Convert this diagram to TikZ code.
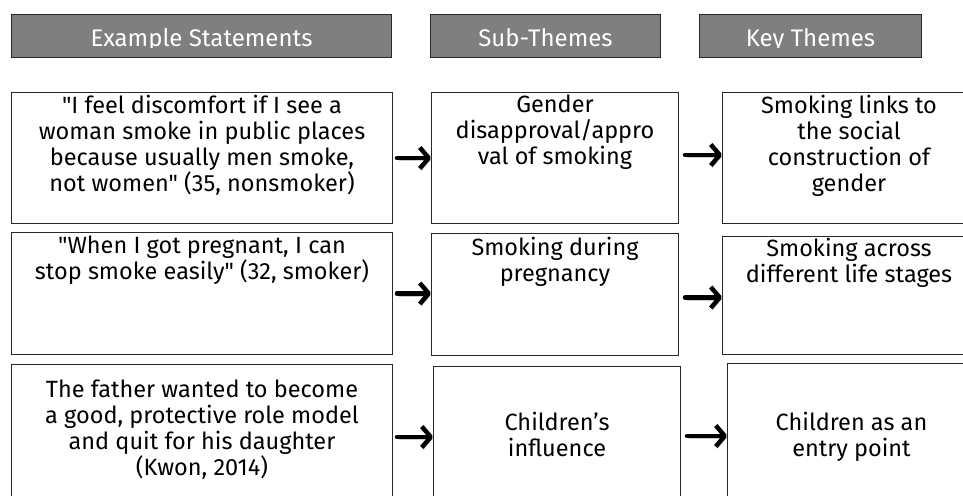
\documentclass[tikz,border=0pt]{standalone}
\usepackage{fontspec}
\setmainfont{Fira Sans}[Ligatures=TeXOff]
\usetikzlibrary{arrows.meta,positioning,calc}
\definecolor{slate}{RGB}{127,127,127}
\definecolor{edge}{RGB}{40,40,40}

\begin{document}
\begin{tikzpicture}[x=1pt,y=1pt,
    headbox/.style={draw=edge,fill=slate,line width=1pt,anchor=north west,inner sep=0pt},
    cellbox/.style={draw=edge,line width=1pt,anchor=north west,inner sep=0pt},
    cell/.style={align=center,anchor=north,inner sep=0pt,font=\fontsize{23.5}{26}\selectfont},
    head/.style={text=white,anchor=base,inner sep=0pt,font=\fontsize{24}{26}\selectfont},
    flow/.style={line width=4.5pt,line cap=round,
      -{Straight Barb[length=9pt,width=21pt,line join=round]},
      preaction={draw=black!20,transform canvas={shift={(1.5pt,-2.5pt)}}}}]
  \useasboundingbox (0,0) rectangle (963,495);

  % column headers
  \node[headbox,minimum width=380,minimum height=43] (hst) at (11,481) {};
  \node[headbox,minimum width=230,minimum height=43] (hsub) at (430,481) {};
  \node[headbox,minimum width=222,minimum height=43] (hkey) at (699,481) {};
  \begin{scope}
    \clip (0,447) rectangle (963,495);
    \node[head] (thst) at (hst.center |- 0,448) {Example Statements};
    \node[head] (thsub) at (hsub.center |- 0,448) {Sub-Themes};
    \node[head] (thkey) at (hkey.center |- 0,448) {Key Themes};
  \end{scope}

  % row 1
  \node[cellbox,minimum width=381,minimum height=131] (s1) at (11,403) {};
  \node[cellbox,minimum width=247,minimum height=131] (m1) at (431,403) {};
  \node[cellbox,minimum width=253,minimum height=131] (k1) at (722,403) {};
  \node[cell] (ts1) at ([yshift=-3pt]s1.north) {"I feel discomfort if I see a\\woman smoke in public places\\because usually men smoke,\\not women" (35, nonsmoker)};
  \node[cell] (tm1) at ([yshift=-3pt]m1.north) {Gender\\disapproval/appro\\val of smoking};
  \node[cell] (tk1) at ([yshift=-3pt]k1.north) {Smoking links to\\the social\\construction of\\gender};

  % row 2
  \node[cellbox,minimum width=381,minimum height=122] (s2) at (11,263) {};
  \node[cellbox,minimum width=247,minimum height=122] (m2) at (431,262) {};
  \node[cellbox,minimum width=253,minimum height=118] (k2) at (722,259) {};
  \node[cell] (ts2) at ([yshift=-4pt]s2.north) {"When I got pregnant, I can\\stop smoke easily" (32, smoker)};
  \node[cell] (tm2) at ([yshift=-4pt]m2.north) {Smoking during\\pregnancy};
  \node[cell] (tk2) at ([yshift=-2pt]k2.north) {Smoking across\\different life stages};

  % row 3
  \node[cellbox,minimum width=381,minimum height=145] (s3) at (11,131) {};
  \node[cellbox,minimum width=247,minimum height=145] (m3) at (433,129) {};
  \node[cellbox,minimum width=248,minimum height=145] (k3) at (727,132) {};
  \node[cell] (ts3) at ([yshift=-16pt]s3.north) {The father wanted to become\\a good, protective role model\\and quit for his daughter\\(Kwon, 2014)};
  \node[cell] (tm3) at ([yshift=-46pt]m3.north) {Children’s\\influence};
  \node[cell] (tk3) at ([yshift=-49pt]k3.north) {Children as an\\entry point};

  % arrows
  \draw[flow] ([xshift=4pt]s1.east) -- (s1.east -| m1.west);
  \draw[flow] ([xshift=6pt,yshift=3pt]m1.east) -- ([yshift=3pt]m1.east -| k1.west);
  \draw[flow] ([xshift=4pt]s2.east) -- (s2.east -| m2.west);
  \draw[flow] ([xshift=6pt,yshift=-3pt]m2.east) -- ([yshift=-3pt]m2.east -| k2.west);
  \draw[flow] ([xshift=4pt]s3.east) -- (s3.east -| m3.west);
  \draw[flow] ([xshift=6pt,yshift=3pt]m3.east) -- ([yshift=3pt]m3.east -| k3.west);
\end{tikzpicture}
\end{document}
